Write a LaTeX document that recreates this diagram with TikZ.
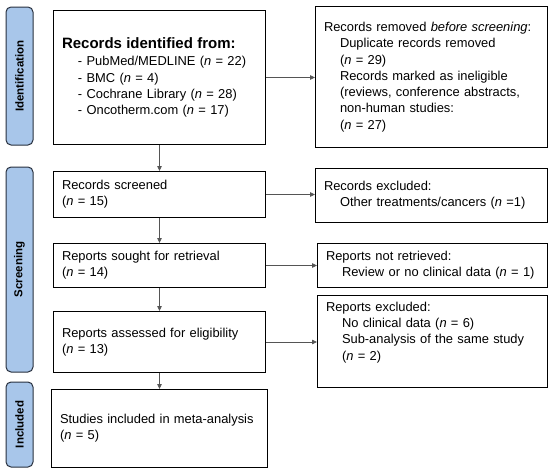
\documentclass[tikz,border=0pt]{standalone}
\usepackage{fontspec}
\setmainfont{Liberation Sans}
\usepackage{xcolor}
\usetikzlibrary{arrows.meta,positioning}
\definecolor{xbar}{RGB}{168,198,234}
\definecolor{xbarline}{RGB}{40,48,62}
\definecolor{xline}{RGB}{85,85,85}
\newcommand{\indt}{\hspace*{16pt}}
\newcommand{\nn}{\textit{n}}

\begin{document}
\begin{tikzpicture}[
  x=1pt, y=-1pt,
  box/.style={
    draw=black, line width=1pt, anchor=north west,
    font=\fontsize{12.9}{16.3}\selectfont, align=left,
    inner xsep=8pt, inner ysep=2pt
  },
  phase/.style={
    draw=xbarline, fill=xbar, line width=1pt, rounded corners=5pt,
    font=\fontsize{11.5}{13}\selectfont\bfseries
  },
  arrow/.style={-{Triangle[length=5pt,width=4.5pt]}, line width=0.8pt, color=xline}
]
  \useasboundingbox (0,0) rectangle (550,474);

  % phase bars
  \draw[phase] (6,7) rectangle node[rotate=90] (pid) {Identification} (33,145);
  \draw[phase] (6,167) rectangle node[rotate=90] (pscr) {Screening} (33,372);
  \draw[phase] (6,382) rectangle node[rotate=90] (pinc) {Included} (33,467);

  % main column
  \node[box, minimum width=212pt, minimum height=134pt, text width=195pt] (id) at (53,10)
    {{\fontsize{15}{18}\selectfont\bfseries Records identified from:}\\[1pt]
     \indt - PubMed/MEDLINE (\nn{} = 22)\\
     \indt - BMC (\nn{} = 4)\\
     \indt - Cochrane Library (\nn{} = 28)\\
     \indt - Oncotherm.com (\nn{} = 17)};
  \node[box, minimum width=212pt, minimum height=46pt, text width=195pt] (scr) at (53,171)
    {Records screened\\(\nn{} = 15)};
  \node[box, minimum width=212pt, minimum height=44pt, text width=195pt] (sought) at (53,243)
    {Reports sought for retrieval\\(\nn{} = 14)};
  \node[box, minimum width=212pt, minimum height=61pt, text width=195pt] (assess) at (53,311)
    {Reports assessed for eligibility\\(\nn{} = 13)};
  \node[box, minimum width=216pt, minimum height=78pt, text width=199pt] (incl) at (51,389)
    {Studies included in meta-analysis\\(\nn{} = 5)};

  % exclusion column
  \node[box, minimum width=232pt, minimum height=141pt, text width=215pt] (removed) at (315,6)
    {Records removed \textit{before screening}:\\
     \indt Duplicate records removed\\
     \indt (\nn{} = 29)\\
     \indt Records marked as ineligible\\
     \indt (reviews, conference abstracts,\\
     \indt non-human studies:\\
     \indt (\nn{} = 27)};
  \node[box, minimum width=232pt, minimum height=54pt, text width=215pt] (recexcl) at (315,168)
    {Records excluded:\\\indt Other treatments/cancers (\nn{} =1)};
  \node[box, minimum width=230pt, minimum height=44pt, text width=213pt] (notret) at (317,243)
    {Reports not retrieved:\\\indt Review or no clinical data (\nn{} = 1)};
  \node[box, minimum width=230pt, minimum height=92pt, text width=213pt] (repexcl) at (317,295)
    {Reports excluded:\\
     \indt No clinical data (\nn{} = 6)\\
     \indt Sub-analysis of the same study\\
     \indt (\nn{} = 2)\\ \strut};

  % connectors
  \foreach \from/\to in {id/scr, scr/sought, sought/assess, assess/incl}
    \draw[arrow] (\from.south) -- (\to.north);
  \foreach \from/\to in {id/removed, scr/recexcl, sought/notret, assess/repexcl}
    \draw[arrow] (\from.east) -- (\from.east -| \to.west);
\end{tikzpicture}
\end{document}
